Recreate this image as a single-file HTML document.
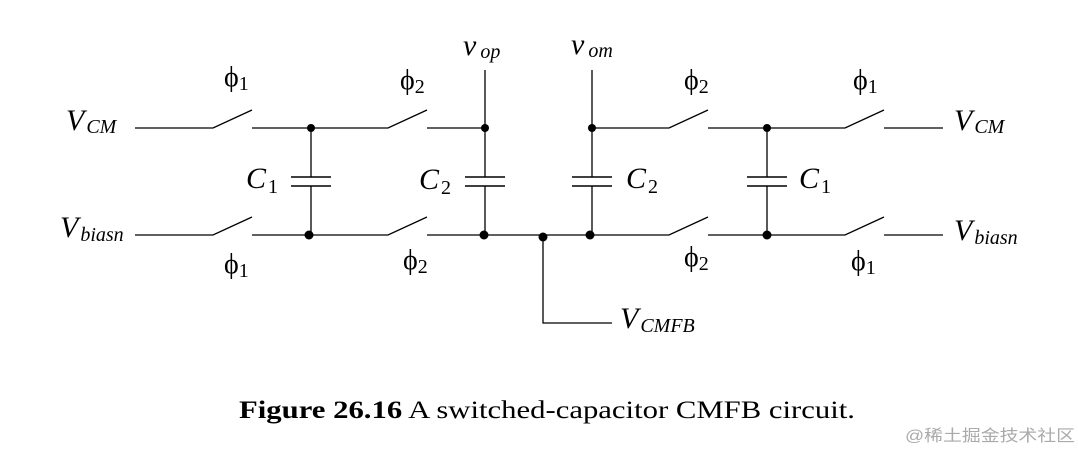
<!DOCTYPE html>
<html><head><meta charset="utf-8"><style>html,body{margin:0;padding:0;background:#fff}svg{display:block}text{font-family:"Liberation Serif",serif}</style></head>
<body>
<svg width="1079" height="451" viewBox="0 0 1079 451" xmlns="http://www.w3.org/2000/svg">
<g stroke="#000" stroke-width="1.3" fill="none">
<path d="M135 128H213L252 110M252 128H388L427 110M427 128H485M485 70V177M485 186V235"/>
<path d="M592 70V177M592 186V235M592 128H669L708 110M708 128H845L884 110M884 128H943"/>
<path d="M311 128V177M311 186V235M767 128V177M767 186V235"/>
<path d="M135 235H213L252 217M252 235H388L427 217M427 235H669L708 217M708 235H845L884 217M884 235H943"/>
<path d="M543 235V323H612"/>
<path d="M291 177H331M291 186H331M465 177H505M465 186H505M572 177H612M572 186H612M747 177H787M747 186H787" stroke-width="1.6"/>
</g>
<g fill="#000">
<circle cx="311" cy="128" r="4"/><circle cx="485" cy="128" r="4"/><circle cx="592" cy="128" r="4"/><circle cx="767" cy="128" r="4"/>
<circle cx="309" cy="235" r="4.5"/><circle cx="484" cy="235" r="4.5"/><circle cx="543" cy="237" r="4.5"/><circle cx="590" cy="235" r="4.5"/><circle cx="767" cy="235" r="4.5"/>
</g>
<g font-size="30" fill="#000">
<text x="66" y="130" font-style="italic">V<tspan font-size="20" dx="2" dy="3">CM</tspan></text>
<text x="60" y="237" font-style="italic">V<tspan font-size="20" dx="2" dy="4">biasn</tspan></text>
<text x="954" y="130" font-style="italic">V<tspan font-size="20" dx="2" dy="3">CM</tspan></text>
<text x="954" y="240" font-style="italic">V<tspan font-size="20" dx="2" dy="4">biasn</tspan></text>
<text x="620" y="328" font-style="italic">V<tspan font-size="20" dx="2" dy="4">CMFB</tspan></text>
<text x="463" y="55" font-style="italic">v<tspan font-size="20" dx="4" dy="3">op</tspan></text>
<text x="571" y="54" font-style="italic">v<tspan font-size="20" dx="4" dy="3">om</tspan></text>
<text x="246" y="188" font-style="italic">C<tspan font-size="20" font-style="normal" dx="2" dy="5">1</tspan></text>
<text x="419" y="189" font-style="italic">C<tspan font-size="20" font-style="normal" dx="2" dy="5">2</tspan></text>
<text x="626" y="188" font-style="italic">C<tspan font-size="20" font-style="normal" dx="2" dy="5">2</tspan></text>
<text x="799" y="188" font-style="italic">C<tspan font-size="20" font-style="normal" dx="2" dy="5">1</tspan></text>
</g>
<g font-size="28" fill="#000">
<text x="224" y="86">ϕ<tspan font-size="20" dy="4">1</tspan></text>
<text x="400" y="89">ϕ<tspan font-size="20" dy="4">2</tspan></text>
<text x="224" y="273">ϕ<tspan font-size="20" dy="4">1</tspan></text>
<text x="403" y="269">ϕ<tspan font-size="20" dy="4">2</tspan></text>
<text x="684" y="89">ϕ<tspan font-size="20" dy="4">2</tspan></text>
<text x="853" y="89">ϕ<tspan font-size="20" dy="4">1</tspan></text>
<text x="684" y="266">ϕ<tspan font-size="20" dy="4">2</tspan></text>
<text x="851" y="270">ϕ<tspan font-size="20" dy="4">1</tspan></text>
</g>
<text x="239" y="418" font-size="25" fill="#000" textLength="616" lengthAdjust="spacingAndGlyphs"><tspan font-weight="bold">Figure 26.16</tspan>  A switched-capacitor CMFB circuit.</text>
<text x="905" y="441" font-size="16" fill="#aaa" style="font-family:'Liberation Sans','Noto Sans CJK SC',sans-serif" textLength="170" lengthAdjust="spacingAndGlyphs">@稀土掘金技术社区</text>
</svg>
</body></html>
